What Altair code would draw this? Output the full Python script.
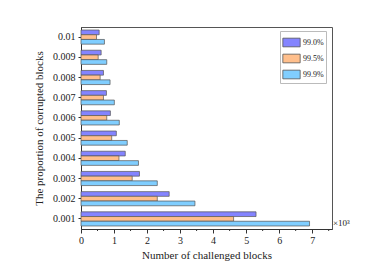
import altair as alt
import pandas as pd

categories = ["0.01", "0.009", "0.008", "0.007", "0.006", "0.005", "0.004", "0.003", "0.002", "0.001"]
series = ["99.0%", "99.5%", "99.9%"]
v990 = [0.55, 0.61, 0.68, 0.77, 0.89, 1.07, 1.34, 1.77, 2.67, 5.30]
v995 = [0.47, 0.52, 0.58, 0.68, 0.78, 0.93, 1.15, 1.55, 2.31, 4.62]
v999 = [0.71, 0.78, 0.88, 1.01, 1.16, 1.40, 1.74, 2.31, 3.45, 6.92]
colors = ["#8484ff", "#ffbf8c", "#80ceff"]
x_ticks = [0, 1, 2, 3, 4, 5, 6, 7]
minor_ticks = [0.5, 1.5, 2.5, 3.5, 4.5, 5.5, 6.5, 7.5]

rows = []
for i, c in enumerate(categories):
    for s, vals in zip(series, [v990, v995, v999]):
        rows.append({"p": c, "conf": s, "n": vals[i]})
df = pd.DataFrame(rows)

W, H = 251, 202
FONT = "Liberation Serif"
xscale = alt.Scale(domain=[0, 7.6], nice=False)
xaxis = alt.Axis(title="Number of challenged blocks", values=x_ticks,
                 format="d", tickSize=4, labelPadding=2, titlePadding=4,
                 labelOverlap=False, grid=False, labelFlush=False,
                 domainColor="#333333", tickColor="#333333",
                 labelFont=FONT, titleFont=FONT, labelFontSize=10, titleFontSize=11)

bars = alt.Chart(df).mark_bar(stroke="#555555", strokeWidth=0.7).encode(
    y=alt.Y("p:N", sort=categories, scale=alt.Scale(paddingInner=0.3, paddingOuter=0.15),
            axis=alt.Axis(title="The proportion of corrupted blocks", titlePadding=8,
                          labelPadding=3, tickSize=3, domainColor="#333333", tickColor="#333333",
                          labelFont=FONT, titleFont=FONT, labelFontSize=10, titleFontSize=11)),
    yOffset=alt.YOffset("conf:N", sort=series, scale=alt.Scale(paddingInner=0)),
    x=alt.X("n:Q", scale=xscale, axis=xaxis),
    color=alt.Color("conf:N", sort=series,
                    scale=alt.Scale(domain=series, range=colors),
                    legend=alt.Legend(title=None, orient="none", legendX=199, legendY=4,
                                      symbolType="M-1,-0.5H1V0.5H-1Z", symbolSize=300,
                                      symbolStrokeColor="#555555", symbolStrokeWidth=0.8,
                                      labelFontSize=8, labelFont=FONT, rowPadding=0,
                                      labelOffset=2, strokeColor="#bbbbbb", padding=2,
                                      fillColor="white")),
)

minor = alt.Chart(pd.DataFrame({"m": minor_ticks})).mark_rule(color="#333333").encode(
    x=alt.X("m:Q", scale=xscale, axis=xaxis, title="Number of challenged blocks"),
    y=alt.value(H), y2=alt.value(H + 2)
)

unit = alt.Chart(pd.DataFrame({"t": ["×10³"]})).mark_text(
    align="left", baseline="middle", font=FONT, fontSize=9, color="#222222"
).encode(text="t:N", x=alt.value(W + 1), y=alt.value(196))

chart = alt.layer(bars, minor, unit).properties(
    width=W, height=H,
    autosize=alt.AutoSizeParams(type="none"),
    padding={"left": 73, "top": 19, "right": 33, "bottom": 42},
).configure_view(stroke="#555555", strokeWidth=1).configure_axis(
    titleFontWeight="normal", labelColor="#222222", titleColor="#222222"
).configure_legend(labelColor="#222222", labelFont=FONT)

chart.save("out.html", embed_options={"renderer": "svg", "actions": False})
